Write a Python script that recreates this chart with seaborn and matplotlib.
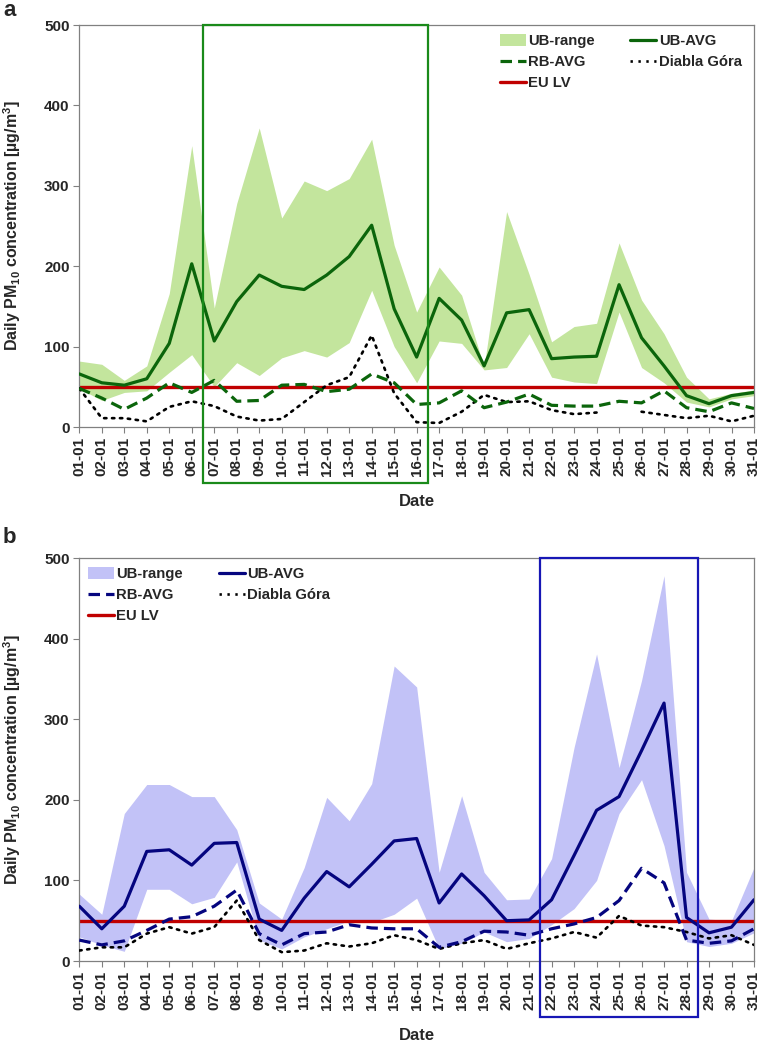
import matplotlib
matplotlib.use("Agg")
import matplotlib.pyplot as plt
import numpy as np
import pandas as pd
import seaborn as sns
from matplotlib.lines import Line2D
from matplotlib.patches import Patch, Rectangle


# Days of January (tick labels)
dates = [f"{d:02d}-01" for d in range(1, 32)]

# Panel a
a_ub_avg = [66, 55, 52, 60, 104, 203, 107, 156, 189, 175, 171, 189, 212, 251, 147, 87,
            160, 133, 76, 142, 146, 85, 87, 88, 177, 111, 76, 39, 29, 39, 43]
a_ub_min = [48, 33, 43, 45, 68, 90, 50, 80, 64, 86, 95, 87, 105, 170, 100, 55,
            107, 104, 71, 74, 116, 62, 56, 54, 143, 74, 55, 31, 25, 35, 39]
a_ub_max = [82, 78, 58, 76, 166, 350, 148, 278, 372, 260, 306, 294, 309, 358, 226, 143,
            199, 164, 75, 268, 190, 106, 125, 129, 229, 158, 116, 62, 35, 42, 46]
a_rb_avg = [48, 36, 22, 36, 55, 43, 58, 32, 33, 52, 53, 44, 47, 66, 55, 28,
            30, 45, 24, 31, 41, 27, 26, 26, 32, 30, 45, 24, 19, 30, 23]
a_diabla = [48, 11, 11, 7, 25, 32, 26, 13, 8, 10, 31, 52, 62, 114, 42, 6,
            5, 19, 40, 31, 32, 21, 16, 18, np.nan, 19, 15, 11, 14, 7, 14]

# Panel b
b_ub_avg = [68, 40, 68, 136, 138, 119, 146, 147, 52, 38, 78, 111, 92, 120, 149, 152,
            72, 108, 81, 50, 51, 76, 131, 187, 204, 261, 320, 54, 35, 42, 76]
b_ub_min = [30, 20, 12, 89, 89, 71, 79, 123, 26, 15, 30, 40, 50, 48, 58, 78,
            15, 22, 36, 24, 28, 45, 65, 100, 183, 225, 143, 24, 18, 22, 35]
b_ub_max = [83, 58, 183, 219, 219, 204, 204, 163, 72, 52, 116, 203, 174, 220, 366, 340,
            110, 205, 110, 76, 77, 127, 265, 381, 240, 348, 478, 110, 52, 50, 116]
b_rb_avg = [26, 20, 25, 38, 52, 55, 68, 88, 34, 20, 34, 36, 45, 41, 40, 40,
            17, 24, 37, 36, 32, 40, 46, 54, 75, 115, 97, 26, 22, 25, 40]
b_diabla = [13, 17, 17, 34, 42, 34, 42, 75, 26, 11, 13, 22, 18, 22, 32, 26,
            15, 22, 26, 15, 22, 28, 36, 29, 56, 44, 42, 36, 28, 32, 20]

eu_lv = 50

panels = [
    dict(tag="a", avg=a_ub_avg, lo=a_ub_min, hi=a_ub_max, rb=a_rb_avg, dg=a_diabla,
         fill="#c3e59d", line="#0b650b", box="#1a8a1a", span=(5.5, 15.5),
         rect=[0.1042, 0.5906, 0.8866, 0.3854], loc="upper right", anchor=(0.995, 1.0)),
    dict(tag="b", avg=b_ub_avg, lo=b_ub_min, hi=b_ub_max, rb=b_rb_avg, dg=b_diabla,
         fill="#c2c2f7", line="#05057f", box="#1717b5", span=(20.5, 27.5),
         rect=[0.1042, 0.0786, 0.8866, 0.3864], loc="upper left", anchor=(0.0, 1.0)),
]

sns.set_style("white")
plt.rcParams["font.family"] = ["Liberation Sans", "DejaVu Sans"]
plt.rcParams["font.weight"] = "bold"
plt.rcParams["mathtext.fontset"] = "custom"
plt.rcParams["mathtext.rm"] = "Liberation Sans:bold"
plt.rcParams["mathtext.bf"] = "Liberation Sans:bold"

fig = plt.figure(figsize=(7.61, 10.43), dpi=100)
red = "#c00000"
dash = (0, (3.6, 1.9))
dots = (0, (0.9, 2.1))

for p in panels:
    ax = fig.add_axes(p["rect"])
    x = np.arange(len(dates))
    df = pd.DataFrame({"x": x, "avg": p["avg"], "lo": p["lo"], "hi": p["hi"],
                       "rb": p["rb"], "dg": p["dg"]})

    ax.fill_between(df["x"], df["lo"], df["hi"], color=p["fill"], linewidth=0, zorder=1)
    ax.axhline(eu_lv, color=red, linewidth=2.4, zorder=2)

    # Diabla Gora has a missing day: split into segments so the line breaks
    dg = df[["x", "dg"]].copy()
    dg["seg"] = dg["dg"].isna().cumsum()
    dg = dg.dropna()
    sns.lineplot(data=dg, x="x", y="dg", units="seg", estimator=None, ax=ax,
                 color="black", linewidth=1.9, linestyle=dots, zorder=3,
                 dash_capstyle="round")
    sns.lineplot(data=df, x="x", y="rb", ax=ax, color=p["line"], linewidth=2.3,
                 linestyle=dash, zorder=4)
    sns.lineplot(data=df, x="x", y="avg", ax=ax, color=p["line"], linewidth=2.3, zorder=5)

    ax.set_xlim(0, 30)
    ax.set_ylim(0, 500)
    ax.set_xticks(x)
    ax.set_xticklabels(dates, rotation=90, fontsize=11, fontweight="bold")
    ax.set_yticks(range(0, 501, 100))
    ax.set_yticklabels([str(v) for v in range(0, 501, 100)], fontsize=11, fontweight="bold")
    ax.tick_params(axis="both", direction="out", length=4, width=0.8, color="#808080",
                   left=True, bottom=True, pad=3)
    for s in ax.spines.values():
        s.set_color("#808080")
        s.set_linewidth(0.9)

    ax.set_xlabel("Date", fontsize=12, fontweight="bold", labelpad=13)
    ax.set_ylabel(r"Daily PM$_{\mathbf{10}}$ concentration [µg/m$^{\mathbf{3}}$]",
                  fontsize=11.5, fontweight="bold")
    ax.yaxis.set_label_coords(-0.083, 0.5)

    # highlight box around the episode, reaching down over the tick labels
    x0, x1 = p["span"]
    box = Rectangle((x0, -0.14), x1 - x0, 1.14, transform=ax.get_xaxis_transform(),
                    fill=False, edgecolor=p["box"], linewidth=1.6, clip_on=False, zorder=6)
    ax.add_patch(box)

    handles = [
        Patch(facecolor=p["fill"], edgecolor="none", label="UB-range"),
        Line2D([], [], color=p["line"], linewidth=2.3, linestyle=dash, label="RB-AVG"),
        Line2D([], [], color=red, linewidth=2.4, label="EU LV"),
        Line2D([], [], color=p["line"], linewidth=2.3, label="UB-AVG"),
        Line2D([], [], color="black", linewidth=1.9, linestyle=dots, label="Diabla Góra"),
    ]
    ax.legend(handles=handles, loc=p["loc"], bbox_to_anchor=p["anchor"], ncol=2,
              frameon=False, prop={"size": 10.7, "weight": "bold"}, handlelength=1.75,
              handleheight=0.9, handletextpad=0.15, columnspacing=2.4, labelspacing=0.45,
              borderaxespad=0.2)

    fig.text(0.004, p["rect"][1] + p["rect"][3] + (0.004 if p["tag"] == "a" else 0.01),
             p["tag"], fontsize=16, fontweight="bold", ha="left", va="bottom")

fig.savefig("out.png", dpi=100)
